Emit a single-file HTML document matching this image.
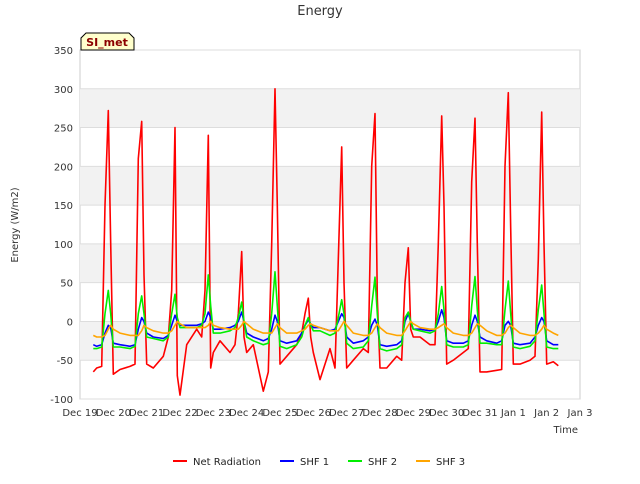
<!DOCTYPE html>
<html><head><meta charset="utf-8"><style>
body{margin:0;background:#fff;font-family:"DejaVu Sans","Liberation Sans",sans-serif}
</style></head><body>
<svg width="640" height="480" xmlns="http://www.w3.org/2000/svg" font-family="DejaVu Sans, Liberation Sans, sans-serif">
<g id="bg"></g><g id="grid"></g><g id="series"></g><g id="axes"></g>
</svg>
<script>
const yTicks=[-100,-50,0,50,100,150,200,250,300,350];
const xTickLabels=["Dec 19","Dec 20","Dec 21","Dec 22","Dec 23","Dec 24","Dec 25","Dec 26","Dec 27","Dec 28","Dec 29","Dec 30","Dec 31","Jan 1","Jan 2","Jan 3"];
const times=[0.4,0.5,0.65,0.75,0.85,0.92,1.0,
1.2,1.5,1.65,1.75,1.85,1.92,2.0, 2.2,2.5,2.65,2.75,2.85,2.92,3.0, 3.2,3.5,3.65,3.75,3.85,3.92,4.0,
4.2,4.5,4.65,4.75,4.85,4.92,5.0, 5.2,5.5,5.65,5.75,5.85,5.92,6.0, 6.2,6.5,6.65,6.75,6.85,6.92,7.0,
7.2,7.5,7.65,7.75,7.85,7.92,8.0, 8.2,8.5,8.65,8.75,8.85,8.92,9.0, 9.2,9.5,9.65,9.75,9.85,9.92,10.0,
10.2,10.5,10.65,10.75,10.85,10.92,11.0, 11.2,11.5,11.65,11.75,11.85,11.92,12.0, 12.2,12.5,12.65,12.75,12.85,12.92,13.0,
13.2,13.5,13.65,13.75,13.85,13.92,14.0, 14.2,14.35];
const netRad=[-65,-60,-58,150,272,100,-68, -62,-58,-55,210,258,60,-55, -60,-45,-20,40,250,-70,-95, -30,-10,-20,40,240,-60,-40,
-25,-40,-30,10,90,-20,-40, -30,-90,-65,100,300,150,-55, -45,-30,-15,10,30,-20,-40, -75,-35,-60,80,225,50,-60,
-50,-35,-40,200,268,30,-60, -60,-45,-50,50,95,-10,-20, -20,-30,-30,100,265,150,-55, -50,-40,-35,180,262,100,-65,
-65,-63,-62,200,295,120,-55, -55,-50,-45,80,270,100,-55, -52,-57];
const shf1=[-30,-32,-30,-15,-5,-8,-28, -30,-32,-30,-10,5,0,-15, -20,-22,-18,-5,8,0,-5, -5,-5,-3,0,12,5,-10,
-10,-8,-5,0,12,0,-15, -20,-25,-22,-10,8,0,-25, -28,-25,-15,-5,2,-3,-8, -8,-12,-10,0,10,5,-20,
-28,-25,-20,-5,3,-5,-30, -32,-30,-25,0,10,0,-10, -10,-12,-10,0,15,5,-25, -28,-28,-25,-5,8,0,-20,
-25,-28,-25,-5,0,-5,-28, -30,-28,-20,-5,5,0,-25, -30,-30];
const shf2=[-35,-35,-33,10,40,10,-33, -33,-35,-32,10,33,10,-20, -22,-25,-20,10,35,5,-8, -8,-8,-5,10,60,20,-15,
-15,-12,-8,5,25,0,-20, -25,-30,-28,10,64,20,-32, -35,-30,-20,-5,5,-5,-12, -12,-18,-15,5,28,10,-28,
-35,-33,-25,20,57,10,-35, -38,-35,-30,5,12,0,-10, -12,-15,-12,10,45,15,-30, -33,-33,-30,20,58,15,-28,
-28,-30,-30,15,52,10,-33, -35,-32,-25,15,47,10,-33, -35,-35];
const shf3=[-18,-20,-20,-18,-10,-5,-10, -15,-18,-18,-18,-12,-5,-8, -12,-15,-15,-12,-5,0,-3, -8,-8,-8,-8,-5,0,-5,
-8,-10,-10,-10,-5,0,-3, -10,-15,-15,-15,-8,-3,-8, -15,-15,-12,-10,-5,-3,-5, -8,-12,-12,-12,-5,0,-5,
-15,-18,-18,-15,-8,-3,-8, -15,-18,-18,-12,-5,0,-3, -8,-10,-10,-8,-5,-3,-8, -15,-18,-18,-15,-8,-3,-5,
-12,-18,-18,-15,-8,-5,-8, -15,-18,-18,-15,-10,-5,-10, -15,-18];

const X0=80,X1=580,Y0=50,Y1=399;
const xs=d=>X0+(d/15)*(X1-X0);
const ys=v=>Y1-(v+100)/450*(Y1-Y0);
const NS="http://www.w3.org/2000/svg";
function mk(tag,attrs,parent,txt){const e=document.createElementNS(NS,tag);for(const k in attrs)e.setAttribute(k,attrs[k]);if(txt!==undefined)e.textContent=txt;document.getElementById(parent).appendChild(e);return e;}

let r=mk('rect',{x:X0,y:Y0,width:X1-X0,height:Y1-Y0,fill:'#fff',stroke:'#ccc'},'bg');


for(let i=0;i<yTicks.length-1;i++){
  if(i%2===1){const b=mk('rect',{x:X0,y:ys(yTicks[i+1]),width:X1-X0,height:ys(yTicks[i])-ys(yTicks[i+1]),fill:'#f2f2f2'},'grid');
  
  }
}
yTicks.forEach(v=>{
  const l=mk('line',{x1:X0,x2:X1,y1:ys(v),y2:ys(v),stroke:'#ddd'},'grid');
  
  
  const t=mk('text',{x:X0-7,y:ys(v)+4,'text-anchor':'end','font-size':10,fill:'#333'},'axes',v);
  
  
});
xTickLabels.forEach((s,i)=>{
  const t=mk('text',{x:xs(i),y:416,'text-anchor':'middle','font-size':10,fill:'#333'},'axes',s);
  
  
});
const series=[[netRad,'#ff0000','net-radiation-line'],[shf1,'#0000ff','shf1-line'],[shf2,'#00ee00','shf2-line'],[shf3,'#ffa500','shf3-line']];
series.forEach(([vals,c,n])=>{
  const d=vals.map((v,i)=>(i?'L':'M')+xs(times[i]).toFixed(1)+','+ys(v).toFixed(1)).join('');
  const p=mk('path',{d:d,fill:'none',stroke:c,'stroke-width':1.6,'stroke-linejoin':'round'},'series');
  
  
});
</script>
<svg style="position:absolute;left:0;top:0" width="640" height="480" xmlns="http://www.w3.org/2000/svg" font-family="DejaVu Sans, Liberation Sans, sans-serif">
<text x="320" y="15" text-anchor="middle" font-size="13" fill="#333">Energy</text>
<text transform="translate(18,225) rotate(-90)" text-anchor="middle" font-size="10" fill="#333">Energy (W/m2)</text>
<text x="578" y="433" text-anchor="end" font-size="10" fill="#333">Time</text>
<g>
<path d="M81,50 L81,38 L86,33 L129,33 L134,38 L134,50 Z" fill="#ffffcc" stroke="#000"/>
<text x="107" y="46" text-anchor="middle" font-size="11" font-weight="bold" fill="#8b0000">SI_met</text>
</g>
<g font-size="10" fill="#222">
<g><line x1="173" x2="187" y1="461" y2="461" stroke="#ff0000" stroke-width="2"/><text x="193" y="465">Net Radiation</text></g>
<g><line x1="280" x2="294" y1="461" y2="461" stroke="#0000ff" stroke-width="2"/><text x="300" y="465">SHF 1</text></g>
<g><line x1="348" x2="362" y1="461" y2="461" stroke="#00ee00" stroke-width="2"/><text x="368" y="465">SHF 2</text></g>
<g><line x1="416" x2="430" y1="461" y2="461" stroke="#ffa500" stroke-width="2"/><text x="436" y="465">SHF 3</text></g>
</g>
</svg>
</body></html>
